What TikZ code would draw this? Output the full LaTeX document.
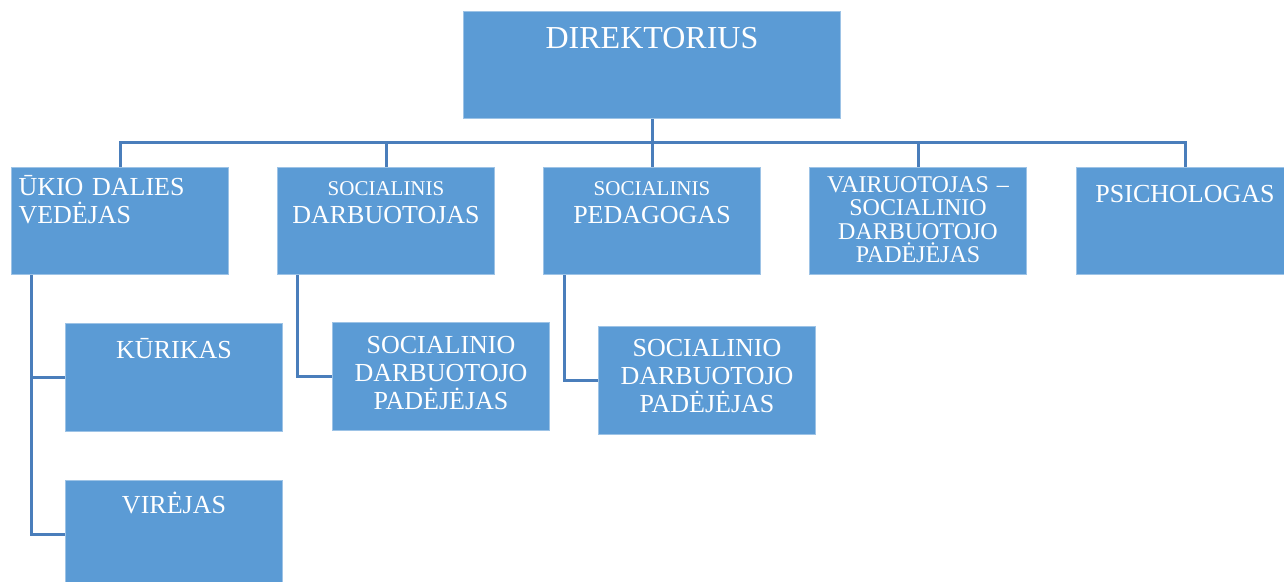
\documentclass[tikz,border=0pt]{standalone}
\usepackage{fontspec}
\setmainfont{Liberation Serif}
\usetikzlibrary{positioning}
\definecolor{unitblue}{HTML}{5B9BD5}
\definecolor{unitedge}{HTML}{9DC3E6}
\definecolor{linkblue}{HTML}{4A7EBB}
\begin{document}
\begin{tikzpicture}[x=0.5pt,y=-0.5pt,
		unit_node/.style={rectangle,fill=unitblue,draw=unitedge,line width=0.5pt,text=white,anchor=north west,inner xsep=2pt,inner ysep=0pt,text width=104.5pt,align=center,font=\fontsize{13}{14}\selectfont},
		top_gap/.style={text height=#1,text depth=53.75pt-#1},
		link/.style={draw=linkblue,line width=1.5pt}]
	\useasboundingbox (0,0) rectangle (1284,582);
	
	\node[unit_node, top_gap=18.5pt, text width=184.5pt, font=\fontsize{16}{18}\selectfont] (dir) at (463,11) {DIREKTORIUS};
	
	\node[unit_node, top_gap=14pt, align=left, inner xsep=3.5pt, text width=101.5pt] (b1) at (11,167) {ŪKIO DALIES\\VEDĖJAS};
	\node[unit_node, top_gap=14pt] (b2) at (277,167) {{\fontsize{10.5}{12}\selectfont SOCIALINIS}\\DARBUOTOJAS};
	\node[unit_node, top_gap=14pt] (b3) at (543,167) {{\fontsize{10.5}{12}\selectfont SOCIALINIS}\\PEDAGOGAS};
	\node[unit_node, top_gap=12.5pt, font=\fontsize{12}{11.7}\selectfont] (b4) at (809,167) {VAIRUOTOJAS –\\SOCIALINIO\\DARBUOTOJO\\PADĖJĖJAS};
	\node[unit_node, top_gap=17.5pt] (b5) at (1076,167) {PSICHOLOGAS};
	
	\node[unit_node, top_gap=17.5pt] (kur) at (65,323) {KŪRIKAS};
	\node[unit_node, top_gap=16.5pt] (vir) at (65,480) {VIRĖJAS};
	\node[unit_node, top_gap=15.5pt] (pad1) at (332,322) {SOCIALINIO\\DARBUOTOJO\\PADĖJĖJAS};
	\node[unit_node, top_gap=15pt] (pad2) at (598,326) {SOCIALINIO\\DARBUOTOJO\\PADĖJĖJAS};
	
	% top level links
	\coordinate (bus) at (651,143);
	\draw[link] (dir.south) -- (dir.south |- b3.north);
	\draw[link] (b1.north) -- (b1.north |- bus) -- (b5.north |- bus) -- (b5.north);
	\foreach \n in {b2,b3,b4}
		\draw[link] (\n.north |- bus) -- (\n.north);
	
	% second level links
	\draw[link] ([xshift=10pt]b1.south west) |- (kur.west);
	\draw[link] ([xshift=10pt]b1.south west) |- (vir.west);
	\draw[link] ([xshift=10pt]b2.south west) |- (pad1.west);
	\draw[link] ([xshift=10.5pt]b3.south west) |- (pad2.west);
\end{tikzpicture}
\end{document}
